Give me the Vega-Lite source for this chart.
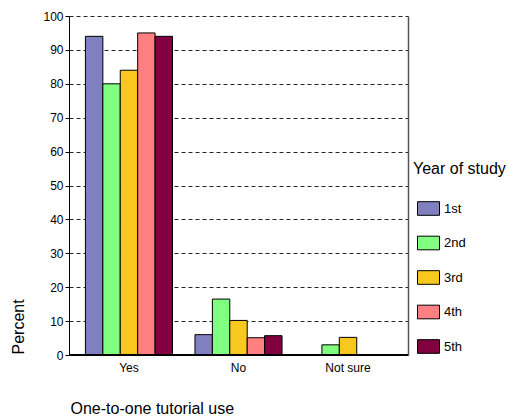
{
  "$schema": "https://vega.github.io/schema/vega-lite/v6.json",
  "autosize": {"type": "none"},
  "padding": {"left": 69, "top": 16, "right": 98, "bottom": 65},
  "width": 339,
  "height": 339,
  "background": "white",
  "config": {
    "view": {"stroke": null},
    "font": "Liberation Sans",
    "axis": {"labelFont": "Liberation Sans", "titleFont": "Liberation Sans", "labelColor": "black", "titleColor": "black", "titleFontWeight": "normal"},
    "legend": {"labelFont": "Liberation Sans", "titleFont": "Liberation Sans"}
  },
  "data": {
    "values": [
      {"use": "Yes", "year": "1st", "percent": 94},
      {"use": "Yes", "year": "2nd", "percent": 80},
      {"use": "Yes", "year": "3rd", "percent": 84},
      {"use": "Yes", "year": "4th", "percent": 95},
      {"use": "Yes", "year": "5th", "percent": 94},
      {"use": "No", "year": "1st", "percent": 6},
      {"use": "No", "year": "2nd", "percent": 16.5},
      {"use": "No", "year": "3rd", "percent": 10.2},
      {"use": "No", "year": "4th", "percent": 5.1},
      {"use": "No", "year": "5th", "percent": 5.7},
      {"use": "Not sure", "year": "1st", "percent": 0},
      {"use": "Not sure", "year": "2nd", "percent": 3},
      {"use": "Not sure", "year": "3rd", "percent": 5.2},
      {"use": "Not sure", "year": "4th", "percent": 0},
      {"use": "Not sure", "year": "5th", "percent": 0}
    ]
  },
  "layer": [
    {
      "mark": {"type": "bar", "stroke": "black", "strokeWidth": 1},
      "encoding": {
        "x": {
          "field": "use", "type": "nominal", "sort": ["Yes", "No", "Not sure"],
          "scale": {"paddingInner": 0.205, "paddingOuter": 0.15},
          "axis": {
            "title": "One-to-one tutorial use", "titleFontSize": 16,
            "titleAnchor": "start", "titleAlign": "left", "titleX": 1, "titleY": 45, "titleBaseline": "top",
            "labelAngle": 0, "labelFontSize": 12, "labelPadding": 7,
            "ticks": false, "domainColor": "black", "domainWidth": 1, "grid": false
          }
        },
        "xOffset": {"field": "year", "type": "nominal", "sort": ["1st", "2nd", "3rd", "4th", "5th"], "scale": {"paddingInner": 0, "paddingOuter": 0}},
        "y": {
          "field": "percent", "type": "quantitative",
          "scale": {"domain": [0, 100], "nice": false},
          "axis": {
            "title": "Percent", "titleFontSize": 16, "titleAngle": -90,
            "titleAlign": "left", "titleBaseline": "alphabetic", "titleX": -46, "titleY": 338,
            "values": [0, 10, 20, 30, 40, 50, 60, 70, 80, 90, 100],
            "labelFontSize": 12, "labelPadding": 2, "tickSize": 4, "tickColor": "black",
            "domainColor": "black", "domainWidth": 1,
            "grid": true, "gridColor": "black", "gridDash": [4, 3], "gridWidth": 1, "gridOpacity": 0.85
          }
        },
        "color": {
          "field": "year", "type": "nominal",
          "scale": {"domain": ["1st", "2nd", "3rd", "4th", "5th"], "range": ["#8080c0", "#80ff80", "#f8c81e", "#ff8080", "#800040"]},
          "legend": {
            "title": "Year of study", "orient": "none", "legendX": 344, "legendY": 145,
            "titleFontSize": 16, "titleFontWeight": "normal", "titleColor": "black", "titlePadding": 20,
            "labelFontSize": 13, "labelColor": "black", "labelOffset": 4,
            "symbolType": "M-1,-0.62H1V0.62H-1Z", "symbolSize": 484, "symbolOffset": 4,
            "symbolStrokeColor": "black", "symbolStrokeWidth": 1, "symbolOpacity": 1,
            "rowPadding": 13.5
          }
        }
      }
    },
    {
      "mark": {"type": "rule", "color": "black", "strokeWidth": 1},
      "encoding": {
        "y": {
          "datum": 0, "type": "quantitative",
          "axis": {"orient": "right", "title": null, "labels": false, "ticks": false, "grid": false, "domainColor": "#555555", "domainWidth": 1.5}
        }
      }
    }
  ],
  "resolve": {"axis": {"y": "independent"}}
}
